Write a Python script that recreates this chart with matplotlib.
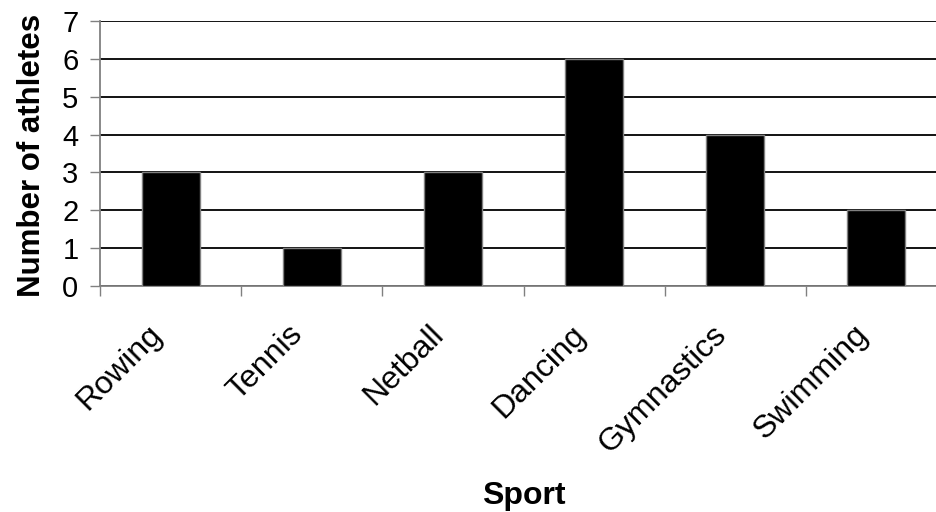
import numpy as np
import matplotlib.pyplot as plt
from matplotlib.ticker import FixedLocator
from matplotlib.transforms import ScaledTranslation

plt.rcParams.update({
    "font.family": ["Liberation Sans", "DejaVu Sans"],
    "font.size": 21,
})

sports = ["Rowing", "Tennis", "Netball", "Dancing", "Gymnastics", "Swimming"]
athletes = [3, 1, 3, 6, 4, 2]
y_ticks = [0, 1, 2, 3, 4, 5, 6, 7]

fig = plt.figure(figsize=(9.37, 5.12), dpi=100)
ax = fig.add_axes([0.1067, 0.4414, 0.904, 0.5176])

x = np.arange(len(sports))
ax.bar(x, athletes, width=0.41, color="black", edgecolor="#808080",
       linewidth=1, zorder=3)

ax.set_xlim(-0.5, len(sports) - 0.5)
ax.set_ylim(0, 7)
ax.set_yticks(y_ticks)
ax.yaxis.grid(True, color="black", linewidth=1.3, zorder=0)

# category names under the bars, tick marks between categories
ax.set_xticks(x)
ax.set_xticklabels(sports, rotation=45, ha="right", va="top",
                   rotation_mode="anchor", fontsize=23)
ax.tick_params(axis="x", which="major", length=0, pad=24)
shift = ScaledTranslation(-0.24, 0, fig.dpi_scale_trans)
for lbl in ax.get_xticklabels():
    lbl.set_transform(lbl.get_transform() + shift)
ax.xaxis.set_minor_locator(FixedLocator(np.arange(-0.5, len(sports), 1.0)))
ax.tick_params(axis="x", which="minor", length=7.5, width=1, color="#808080")
ax.tick_params(axis="y", length=7.5, width=1, color="#808080", pad=8)

for side in ["top", "right"]:
    ax.spines[side].set_visible(False)
for side in ["left", "bottom"]:
    ax.spines[side].set_color("#808080")
    ax.spines[side].set_linewidth(1.3)

ax.set_ylabel("Number of athletes", fontweight="bold", fontsize=22.5)
ax.yaxis.set_label_coords(-0.062, 0.494)
ax.set_xlabel("Sport", fontweight="bold", fontsize=23)
ax.xaxis.set_label_coords(0.5, -0.735)

fig.savefig("out.png", dpi=100)
